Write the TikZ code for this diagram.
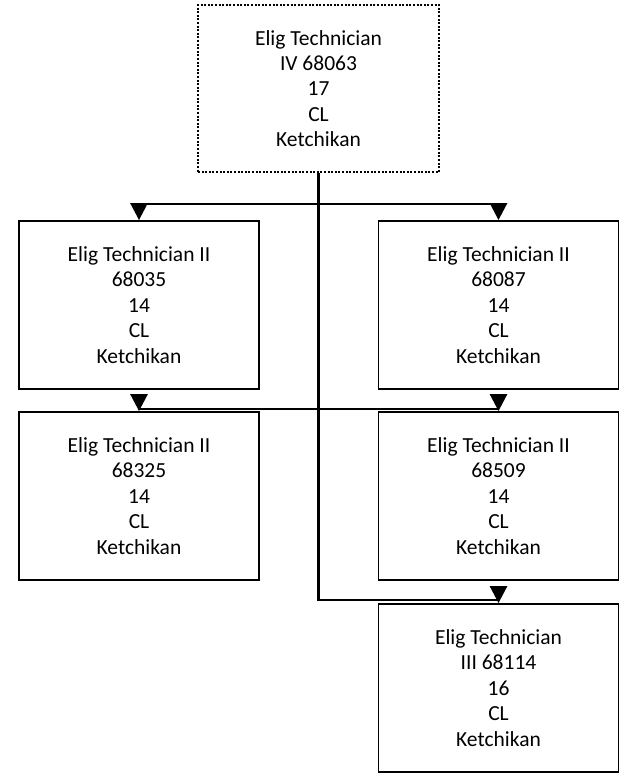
\documentclass[tikz,border=0pt]{standalone}
\usepackage{fontspec}
\setmainfont{Carlito}
\usetikzlibrary{arrows.meta}
\begin{document}
\begin{tikzpicture}[x=1pt,y=-1pt,
  box/.style={draw=black, line width=1.8pt, minimum width=240pt, minimum height=168pt,
    align=center, inner sep=0pt, font=\fontsize{21.5}{25.4}\selectfont},
  topbox/.style={box, line width=1.6pt, dash pattern=on 2pt off 1.6pt, minimum width=241pt, minimum height=167pt},
  conn/.style={line width=2.7pt, line cap=butt},
  arr/.style={line width=2.7pt, -{Triangle[width=17pt,length=17pt]}}]
\useasboundingbox (0,0) rectangle (626,773);
\node[topbox] (top) at (318.5,88.5) {Elig Technician\\IV 68063\\17\\CL\\Ketchikan};
\node[box] (L1) at (139,305) {Elig Technician II\\68035\\14\\CL\\Ketchikan};
\node[box] (R1) at (498.5,305) {Elig Technician II\\68087\\14\\CL\\Ketchikan};
\node[box] (L2) at (139,496) {Elig Technician II\\68325\\14\\CL\\Ketchikan};
\node[box] (R2) at (498.5,496) {Elig Technician II\\68509\\14\\CL\\Ketchikan};
\node[box] (B) at (498.5,688) {Elig Technician\\III 68114\\16\\CL\\Ketchikan};
\coordinate (h1L) at (139,204);
\coordinate (h1R) at (498.5,204);
\coordinate (h2L) at (139,409);
\coordinate (h2R) at (498.5,409);
\coordinate (a2L) at (139,395);
\coordinate (a2R) at (498.5,395);
\coordinate (hb) at (498.5,600);
\coordinate (ab) at (498.5,587);
\draw[conn] (top.south) |- (hb);
\draw[conn] (h1L) -- (h1R);
\draw[conn] (h2L) -- (h2R);
\draw[arr] (h1L) -- (L1.north);
\draw[arr] (h1R) -- (R1.north);
\draw[arr] (a2L) -- (L2.north);
\draw[arr] (a2R) -- (R2.north);
\draw[arr] (ab) -- (B.north);
\end{tikzpicture}
\end{document}
